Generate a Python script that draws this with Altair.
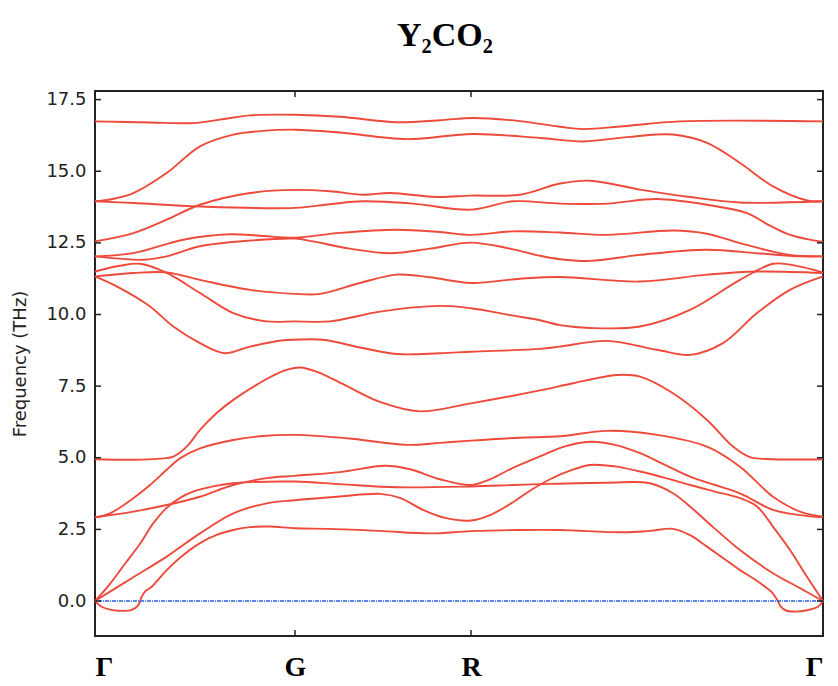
import altair as alt
import pandas as pd

# ---- high-symmetry path (path distance units) ----
KPOS = [0, 200, 376, 728]
KLABELS = ["Γ", "G", "R", "Γ"]
YTICKS = [0.0, 2.5, 5.0, 7.5, 10.0, 12.5, 15.0, 17.5]
ZERO = [0.0]

# ---- phonon branches: path distance k and frequency f (THz) ----
b01_k = [0, 6.7, 15, 23.3, 36.7, 43.3, 46.7, 50, 56.7, 71.7, 88, 105, 121, 138.3, 155, 175, 200, 235, 285, 335, 376, 425, 465, 528, 555, 578, 595, 612, 628, 645, 660, 670, 677, 682, 686, 691, 700, 712, 723, 728]
b01_f = [0, -0.2, -0.3, -0.34, -0.31, -0.14, 0.15, 0.33, 0.5, 1.08, 1.6, 2.02, 2.3, 2.48, 2.58, 2.6, 2.54, 2.52, 2.45, 2.36, 2.44, 2.48, 2.48, 2.40, 2.45, 2.52, 2.3, 1.90, 1.5, 1.08, 0.75, 0.5, 0.3, 0.05, -0.2, -0.33, -0.37, -0.32, -0.2, 0]

b02_k = [0, 38.3, 71.7, 105, 138.3, 171.7, 200, 245, 285, 305, 328, 350, 376, 395, 418, 435, 455, 475, 495, 520, 545, 570, 595, 620, 645, 662, 680, 695, 711, 728]
b02_f = [0, 0.83, 1.55, 2.36, 3.06, 3.41, 3.52, 3.65, 3.74, 3.6, 3.18, 2.9, 2.81, 3.0, 3.45, 3.85, 4.25, 4.55, 4.75, 4.7, 4.52, 4.3, 4.05, 3.82, 3.59, 3.30, 2.5, 1.78, 0.9, 0]

b03_k = [0, 15, 30, 45, 58, 71.7, 85, 98, 118, 138, 200, 245, 302, 376, 418, 445, 512, 555, 578, 595, 612, 645, 678, 705, 728]
b03_f = [0, 0.6, 1.3, 2.0, 2.7, 3.25, 3.6, 3.82, 4.0, 4.11, 4.17, 4.08, 3.97, 4.0, 4.05, 4.08, 4.13, 4.11, 3.76, 3.3, 2.77, 1.78, 0.97, 0.45, 0]

b04_k = [0, 38.3, 71.7, 105, 138.3, 171.7, 200, 245, 290, 315, 345, 376, 395, 418, 445, 470, 495, 520, 545, 570, 595, 620, 645, 678, 705, 728]
b04_f = [2.92, 3.12, 3.35, 3.64, 4.05, 4.29, 4.37, 4.5, 4.72, 4.6, 4.25, 4.05, 4.25, 4.65, 5.05, 5.4, 5.56, 5.45, 5.16, 4.75, 4.34, 4.05, 3.76, 3.18, 3.0, 2.92]

b05_k = [0, 15, 38.3, 55, 71.7, 85, 105, 138.3, 165, 200, 252, 312, 345, 376, 425, 465, 512, 562, 612, 645, 678, 705, 728]
b05_f = [2.92, 3.06, 3.59, 4.05, 4.58, 4.98, 5.33, 5.62, 5.75, 5.80, 5.68, 5.45, 5.52, 5.60, 5.7, 5.75, 5.94, 5.80, 5.39, 4.69, 3.64, 3.12, 2.94]

b06_k = [0, 38.3, 65, 78.3, 91.7, 105, 121.7, 138.3, 171.7, 190, 205, 222, 252, 285, 325, 376, 445, 478, 522, 545, 578, 612, 638, 655, 678, 728]
b06_f = [4.95, 4.93, 4.97, 5.04, 5.39, 5.97, 6.56, 7.02, 7.75, 8.05, 8.15, 8.0, 7.5, 6.95, 6.62, 6.90, 7.35, 7.6, 7.89, 7.83, 7.25, 6.32, 5.39, 5.02, 4.95, 4.95]

b07_k = [0, 21.7, 55, 78.3, 105, 130, 155, 188.3, 200, 228, 265, 302, 345, 376, 445, 465, 512, 562, 595, 628, 662, 695, 728]
b07_f = [11.33, 10.98, 10.28, 9.58, 9.0, 8.65, 8.88, 9.1, 9.12, 9.12, 8.85, 8.62, 8.65, 8.7, 8.8, 8.88, 9.08, 8.77, 8.59, 9.0, 10.05, 10.86, 11.33]

b08_k = [0, 25, 45, 71.7, 105, 138.3, 171.7, 200, 235, 285, 345, 376, 415, 445, 465, 495, 545, 595, 645, 678, 695, 728]
b08_f = [11.5, 11.7, 11.77, 11.45, 10.75, 10.05, 9.76, 9.76, 9.76, 10.1, 10.30, 10.22, 9.98, 9.8, 9.63, 9.53, 9.58, 10.16, 11.21, 11.77, 11.74, 11.47]

b09_k = [0, 38.3, 71.7, 105, 155, 200, 225, 265, 302, 335, 376, 425, 465, 545, 612, 662, 728]
b09_f = [11.33, 11.45, 11.47, 11.21, 10.86, 10.72, 10.72, 11.1, 11.39, 11.3, 11.10, 11.25, 11.31, 11.15, 11.39, 11.50, 11.45]

b10_k = [0, 25, 48.3, 71.7, 105, 155, 200, 218, 255, 295, 335, 376, 415, 445, 465, 495, 545, 612, 662, 705, 728]
b10_f = [12.03, 11.95, 11.91, 12.03, 12.38, 12.58, 12.65, 12.55, 12.3, 12.14, 12.3, 12.51, 12.3, 12.05, 11.93, 11.87, 12.08, 12.26, 12.14, 12.03, 12.03]

b11_k = [0, 38.3, 88.3, 135, 165, 200, 245, 302, 345, 376, 418, 465, 512, 578, 612, 645, 695, 728]
b11_f = [12.03, 12.14, 12.61, 12.8, 12.75, 12.68, 12.85, 12.96, 12.88, 12.78, 12.90, 12.86, 12.78, 12.93, 12.82, 12.49, 12.08, 12.03]

b12_k = [0, 38.3, 71.7, 105, 155, 200, 235, 268, 295, 342, 376, 425, 465, 495, 545, 595, 645, 728]
b12_f = [12.55, 12.84, 13.31, 13.83, 14.24, 14.35, 14.3, 14.18, 14.24, 14.10, 14.15, 14.18, 14.57, 14.67, 14.36, 14.10, 13.91, 13.95]

b13_k = [0, 38.3, 105, 200, 235, 268, 318, 376, 418, 465, 512, 562, 612, 652, 675, 695, 728]
b13_f = [13.95, 13.89, 13.77, 13.72, 13.85, 13.95, 13.87, 13.66, 13.95, 13.87, 13.87, 14.03, 13.83, 13.54, 13.1, 12.78, 12.53]

b14_k = [0, 20, 38.3, 71.7, 105, 138.3, 165, 200, 245, 312, 378, 445, 488, 535, 578, 612, 645, 678, 712, 728]
b14_f = [13.95, 14.05, 14.24, 14.94, 15.87, 16.28, 16.4, 16.45, 16.35, 16.12, 16.30, 16.16, 16.04, 16.2, 16.28, 15.99, 15.29, 14.47, 13.98, 13.95]

b15_k = [0, 55, 98.3, 125, 155, 200, 245, 302, 345, 378, 425, 465, 488, 528, 585, 728]
b15_f = [16.74, 16.7, 16.68, 16.8, 16.95, 16.97, 16.9, 16.71, 16.78, 16.86, 16.75, 16.55, 16.47, 16.57, 16.74, 16.74]

bands = [(b01_k, b01_f), (b02_k, b02_f), (b03_k, b03_f), (b04_k, b04_f), (b05_k, b05_f),
         (b06_k, b06_f), (b07_k, b07_f), (b08_k, b08_f), (b09_k, b09_f), (b10_k, b10_f),
         (b11_k, b11_f), (b12_k, b12_f), (b13_k, b13_f), (b14_k, b14_f), (b15_k, b15_f)]

rows = []
for bi, (ks, fs) in enumerate(bands):
    for i, (k, f) in enumerate(zip(ks, fs)):
        rows.append({"band": bi, "i": i, "k": k, "f": f})
df = pd.DataFrame(rows)

W, H = 728, 545
TL = 6
xscale = alt.Scale(domain=[KPOS[0], KPOS[-1]], nice=False, zero=False)
yscale = alt.Scale(domain=[-1.22, 17.8], nice=False, zero=False)

label_expr = " : ".join(
    [f"datum.value == {p} ? '{l}'" for p, l in zip(KPOS[:-1], KLABELS[:-1])]
) + f" : '{KLABELS[-1]}'"

xaxis = alt.Axis(values=KPOS, labelExpr=label_expr, ticks=False, domain=False, grid=False,
                 labelFont="Liberation Serif", labelFontWeight="bold", labelFontSize=28,
                 labelColor="#000000", labelPadding=17, labelOverlap=False, title=None)
yaxis = alt.Axis(values=YTICKS, format=".1f", ticks=False, domain=False, grid=False,
                 labelFont="DejaVu Sans", labelFontSize=18, labelColor="#222222", labelPadding=9,
                 title="Frequency (THz)", titleFont="DejaVu Sans", titleFontSize=18,
                 titleFontWeight="normal", titleColor="#222222", titleX=-75, titleY=H / 2,
                 titleAlign="center", titleBaseline="middle", titleAngle=270)

lines = alt.Chart(df).mark_line(interpolate="catmull-rom", color="#ee4a3b", strokeWidth=1.9).encode(
    x=alt.X("k:Q", scale=xscale, axis=xaxis),
    y=alt.Y("f:Q", scale=yscale, axis=yaxis),
    detail="band:N",
    order="i:Q",
)

zero_df = pd.DataFrame({"f": ZERO})
zero_line = alt.Chart(zero_df).mark_rule(color="#2a5fe0", strokeWidth=1.5, strokeDash=[4, 1, 1, 1]).encode(
    y=alt.Y("f:Q", scale=yscale)
)

ytick_df = pd.DataFrame({"f": YTICKS})
yt_left = alt.Chart(ytick_df).mark_rule(color="#222222", strokeWidth=1.5).encode(
    y=alt.Y("f:Q", scale=yscale), x=alt.value(0), x2=alt.value(TL))
yt_right = alt.Chart(ytick_df).mark_rule(color="#222222", strokeWidth=1.5).encode(
    y=alt.Y("f:Q", scale=yscale), x=alt.value(W - TL), x2=alt.value(W))

xtick_df = pd.DataFrame({"k": KPOS[1:-1]})
xt_bottom = alt.Chart(xtick_df).mark_rule(color="#222222", strokeWidth=1.5).encode(
    x=alt.X("k:Q", scale=xscale), y=alt.value(H), y2=alt.value(H - TL))
xt_top = alt.Chart(xtick_df).mark_rule(color="#222222", strokeWidth=1.5).encode(
    x=alt.X("k:Q", scale=xscale), y=alt.value(0), y2=alt.value(TL))

chart = alt.layer(lines, zero_line, yt_left, yt_right, xt_bottom, xt_top).properties(
    width=W, height=H,
    background="white",
    title=alt.Title("Y₂CO₂", font="Liberation Serif", fontSize=34, fontWeight="bold",
                    color="#000000", anchor="middle", baseline="alphabetic", offset=10, dx=-14),
    autosize=alt.AutoSizeParams(type="none"),
    padding={"left": 95, "top": 91, "right": 15, "bottom": 50},
).configure_view(stroke="#222222", strokeWidth=2)

chart.save("out.html", embed_options={"renderer": "svg", "actions": False})
